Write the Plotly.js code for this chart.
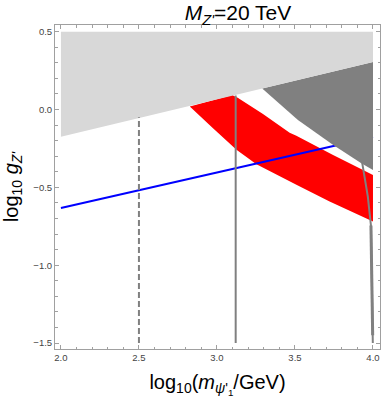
<!DOCTYPE html>
<html>
<head>
<meta charset="utf-8">
<script src="https://cdn.plot.ly/plotly-3.0.1.min.js"></script>
<style>
  html, body { margin: 0; padding: 0; background: #fff; }
  #chart { width: 382px; height: 402px; }
</style>
</head>
<body>
<div id="chart"></div>
<script>
// ---- data ----
// light gray excluded region
const lightX = [2.0, 4.0, 4.0, 2.0];
const lightY = [0.5, 0.5, 0.305, -0.175];
// dark gray excluded region
const darkX = [3.29, 3.519, 3.743, 3.925, 4.0, 4.0];
const darkY = [0.135, -0.067, -0.227, -0.345, -0.388, 0.305];
// red band
const redX = [2.826, 3.14, 3.10, 3.133, 3.295, 3.466, 3.509, 3.741, 4.0, 4.0, 3.722, 3.509, 3.253, 3.125, 2.973, 2.826];
const redY = [0.02, 0.105, 0.092, 0.075, -0.028, -0.150, -0.169, -0.291, -0.42, -0.72, -0.591, -0.484, -0.351, -0.259, -0.118, 0.02];
// blue line
const blueX = [2.0, 4.0];
const blueY = [-0.633, -0.177];
// dashed vertical line
const dashX = [2.5, 2.5];
const dashY = [-1.5, -0.05];
// solid vertical line
const vlineX = [3.12, 3.12];
const vlineY = [-1.5, 0.09];
// right curve
const curveX = [3.931, 3.967, 3.987, 3.992, 3.996, 3.999];
const curveY = [-0.343, -0.559, -0.745, -1.0, -1.25, -1.5];
// jagged part of right curve
const jagX = [3.987, 3.992, 3.996, 3.998];
const jagY = [-0.745, -1.0, -1.25, -1.45];

const gray = '#808080';
const traces = [
  {x: redX, y: redY, type: 'scatter', mode: 'none', fill: 'toself', fillcolor: '#ff0000', hoverinfo: 'skip'},
  {x: blueX, y: blueY, type: 'scatter', mode: 'lines', line: {color: '#0000ff', width: 2}},
  {x: darkX, y: darkY, type: 'scatter', mode: 'none', fill: 'toself', fillcolor: gray},
  {x: lightX, y: lightY, type: 'scatter', mode: 'none', fill: 'toself', fillcolor: '#d8d8d8'},
  {x: dashX, y: dashY, type: 'scatter', mode: 'lines', line: {color: gray, width: 2, dash: '6px,3px'}},
  {x: vlineX, y: vlineY, type: 'scatter', mode: 'lines', line: {color: gray, width: 2}},
  {x: curveX, y: curveY, type: 'scatter', mode: 'lines', line: {color: gray, width: 2}},
  {x: jagX, y: jagY, type: 'scatter', mode: 'lines', line: {color: gray, width: 3}}
];

const axisCommon = {
  showgrid: false, zeroline: false,
  showline: true, linecolor: '#a0a0a0', linewidth: 1, mirror: 'allticks',
  ticks: 'inside', ticklen: 4, tickwidth: 1, tickcolor: '#a0a0a0',
  tickmode: 'linear', dtick: 0.5, tickformat: '.1f',
  tickfont: {family: 'Liberation Sans, Arial, sans-serif', size: 9.5, color: '#444'},
  minor: {ticks: 'inside', ticklen: 2.5, tickwidth: 1, tickcolor: '#a0a0a0', dtick: 0.1, tick0: 0, showgrid: false}
};

const layout = {
  width: 382, height: 402,
  margin: {l: 55, r: 2, t: 25, b: 53},
  paper_bgcolor: '#fff', plot_bgcolor: '#fff',
  showlegend: false,
  font: {family: 'Liberation Sans, Arial, sans-serif', color: '#000'},
  title: {
    text: "<i>M</i><sub><i>Z'</i></sub>=20 TeV",
    font: {size: 21, color: '#000'},
    x: 0.563, xref: 'paper', xanchor: 'center',
    y: 1 - 13/402, yref: 'container', yanchor: 'middle'
  },
  xaxis: Object.assign({}, axisCommon, {
    range: [1.962, 4.045], tick0: 2,
    title: {text: "log<sub>10</sub>(<i>m</i><sub><i>ψ</i>'<sub>1</sub></sub>/GeV)", font: {size: 20, color: '#000'}, standoff: 12}
  }),
  yaxis: Object.assign({}, axisCommon, {
    range: [-1.5385, 0.543], tick0: 0,
    title: {text: "log<sub>10</sub> <i>g</i><sub><i>Z'</i></sub>", font: {size: 20, color: '#000'}, standoff: 10}
  })
};

Plotly.newPlot('chart', traces, layout, {displayModeBar: false, staticPlot: true});
</script>
</body>
</html>
